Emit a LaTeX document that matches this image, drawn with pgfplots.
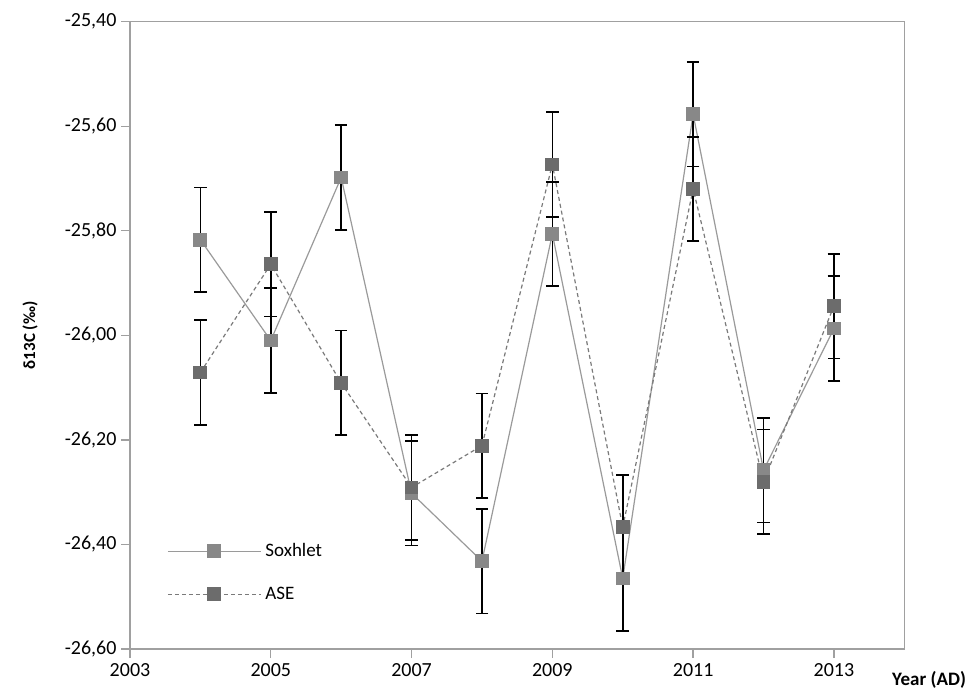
\documentclass[border=0pt]{standalone}
\usepackage{pgfplots}
\pgfplotsset{compat=1.18}
\usepackage{fontspec}
\setmainfont{Carlito}
\definecolor{axgray}{HTML}{A0A0A0}
\definecolor{soxline}{HTML}{9A9A9A}
\definecolor{soxmark}{HTML}{888888}
\definecolor{aseline}{HTML}{7A7A7A}
\definecolor{asemark}{HTML}{6C6C6C}
\pgfplotsset{
  myerr/.style={error bars/.cd, y dir=both, y explicit,
    error bar style={draw=black, line width=1.7pt, solid},
    error mark options={rotate=90, draw=black, mark size=6.3pt, line width=1.7pt, solid}},
}
\begin{document}
\begin{tikzpicture}[x=1pt,y=1pt]
\useasboundingbox (-130pt,-42pt) rectangle (841pt,649pt);
\begin{axis}[
  at={(0pt,0pt)}, anchor=south west,
  scale only axis, width=774.3pt, height=627.3pt,
  xmin=2003, xmax=2014, ymin=-26.6, ymax=-25.4,
  xtick={2003,2005,2007,2009,2011,2013},
  ytick={-26.6,-26.4,-26.2,-26.0,-25.8,-25.6,-25.4},
  axis line style={axgray, line width=1.4pt},
  tick style={axgray, line width=1.4pt},
  tick align=outside, major tick length=9pt,
  xtick pos=bottom, ytick pos=left,
  /pgf/number format/assume math mode=true,
  xticklabel style={font=\fontsize{20}{20}\selectfont, /pgf/number format/1000 sep={}, yshift=-2pt},
  yticklabel style={font=\fontsize{20}{20}\selectfont, /pgf/number format/fixed, /pgf/number format/fixed zerofill, /pgf/number format/precision=2, /pgf/number format/use comma, xshift=-1pt},
  xlabel={\textbf{Year (AD)}},
  xlabel style={font=\fontsize{19}{19}\selectfont, at={(axis description cs:1.032,-0.0494)}, anchor=center},
  ylabel={\textbf{δ13C (‰)}},
  ylabel style={font=\fontsize{17}{17}\selectfont, at={(axis description cs:-0.129,0.5)}, anchor=center, rotate=0},
  legend style={draw=none, fill=none, at={(axis description cs:0.0478,0.1218)}, anchor=west, inner sep=0pt, row sep=27pt, column sep=4pt,
    font=\fontsize{19}{19}\selectfont, nodes={inner sep=0pt, text height=13pt, text depth=3pt}},
  legend cell align=left,
  legend image code/.code={\draw[mark repeat=2,mark phase=2,#1] plot coordinates {(0pt,0pt) (46.5pt,0pt) (93pt,0pt)};},
]
\addplot[soxline, line width=1.2pt, mark=square*, mark size=6.3pt, mark options={solid, fill=soxmark, draw=soxmark}]
  coordinates {
  (2004,-25.817) (2005,-26.010) (2006,-25.698) (2007,-26.302) (2008,-26.432)
  (2009,-25.806) (2010,-26.465) (2011,-25.577) (2012,-26.258) (2013,-25.987)
  };
\addlegendentry{Soxhlet}
\addplot[aseline, line width=1.2pt, dash pattern=on 4pt off 3pt, mark=square*, mark size=6.3pt, mark options={solid, fill=asemark, draw=asemark}]
  coordinates {
  (2004,-26.071) (2005,-25.864) (2006,-26.091) (2007,-26.291) (2008,-26.211)
  (2009,-25.673) (2010,-26.367) (2011,-25.720) (2012,-26.280) (2013,-25.944)
  };
\addlegendentry{ASE}
\addplot[draw=none, mark=none, forget plot, myerr]
  coordinates {
  (2004,-25.817) +- (0,0.10)
  (2005,-26.010) +- (0,0.10)
  (2006,-25.698) +- (0,0.10)
  (2007,-26.302) +- (0,0.10)
  (2008,-26.432) +- (0,0.10)
  (2009,-25.806) +- (0,0.10)
  (2010,-26.465) +- (0,0.10)
  (2011,-25.577) +- (0,0.10)
  (2012,-26.258) +- (0,0.10)
  (2013,-25.987) +- (0,0.10)
  };
\addplot[draw=none, mark=none, forget plot, myerr]
  coordinates {
  (2004,-26.071) +- (0,0.10)
  (2005,-25.864) +- (0,0.10)
  (2006,-26.091) +- (0,0.10)
  (2007,-26.291) +- (0,0.10)
  (2008,-26.211) +- (0,0.10)
  (2009,-25.673) +- (0,0.10)
  (2010,-26.367) +- (0,0.10)
  (2011,-25.720) +- (0,0.10)
  (2012,-26.280) +- (0,0.10)
  (2013,-25.944) +- (0,0.10)
  };
\end{axis}
\end{tikzpicture}
\end{document}
